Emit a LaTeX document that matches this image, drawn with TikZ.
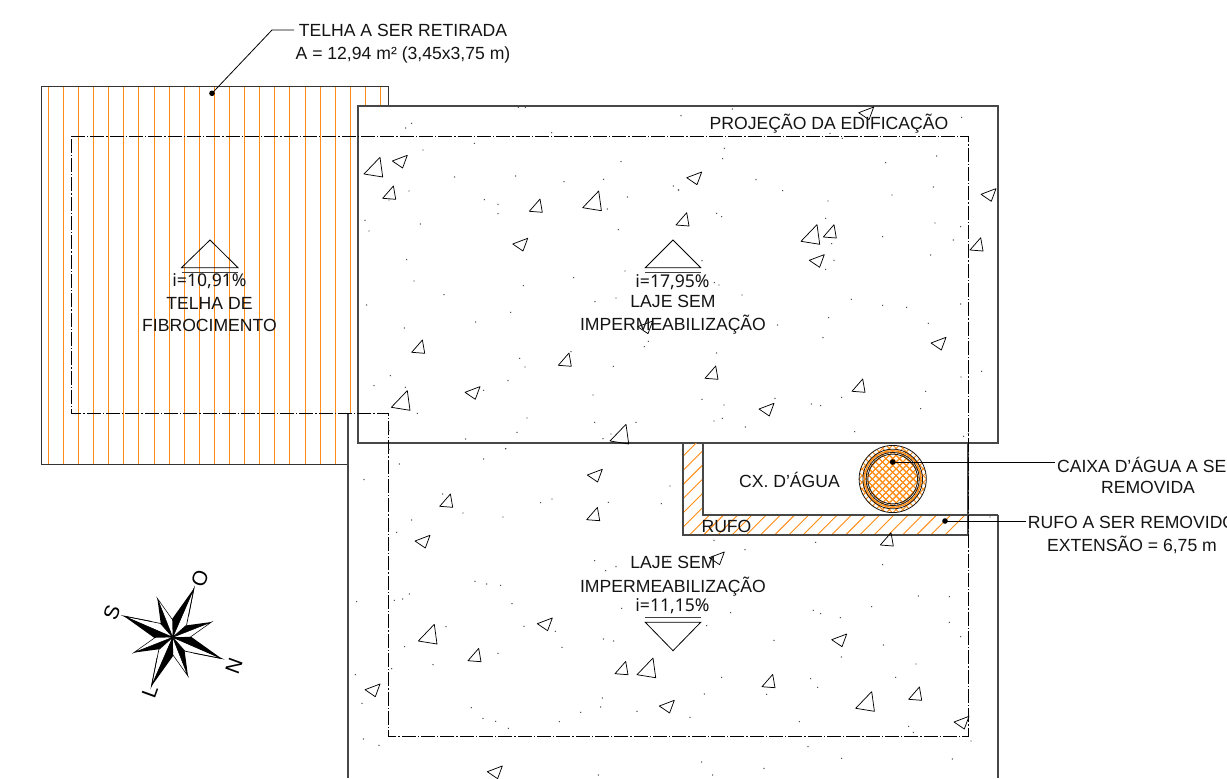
\documentclass[tikz,border=0pt]{standalone}
\usepackage{fontspec}
\setmainfont{Liberation Sans}
\newfontfamily\slopefont{Noto Sans}
\usetikzlibrary{calc}
\definecolor{hatchorange}{RGB}{255,140,20}
\tikzset{
  outline/.style={draw=black!72,line width=0.9pt},
  roofedge/.style={draw=black!80,line width=0.65pt},
  axisline/.style={draw=black,line width=0.75pt,dash pattern=on 10.5pt off 1.6pt on 0.8pt off 1.6pt},
  roofline/.style={draw=hatchorange,line width=0.7pt},
  hatchline/.style={draw=hatchorange,line width=0.7pt},
  leader/.style={draw=black,line width=0.6pt},
  lbl/.style={font=\fontsize{13.2}{17.25}\selectfont,inner sep=0pt,text=black!92},
  slopelbl/.style={font=\slopefont\fontsize{13.2}{15}\selectfont,inner sep=0pt,text=black!92},
  symb/.style={draw=black,line width=0.6pt,line join=miter},
  symbbar/.style={draw=black!75,line width=0.8pt},
  grain/.style={draw=black,line width=0.55pt,line join=round},
  speck/.style={fill=black!75},
  compasslbl/.style={font=\fontsize{15.5}{17}\selectfont,inner sep=0pt}
}
\newcommand{\triA}[2]{\draw[grain] (#1,#2) -- ++(18.7,3) -- ++(-2.7,-19.7) -- cycle;}
\newcommand{\triB}[2]{\draw[grain] (#1,#2) -- ++(13,1) -- ++(-2.3,-13.3) -- cycle;}
\newcommand{\triC}[2]{\draw[grain] (#1,#2) -- ++(15,-5.7) -- ++(-4.7,12.7) -- cycle;}
\begin{document}
\begin{tikzpicture}[x=0.75pt,y=-0.75pt]
\useasboundingbox (0,0) rectangle (1227,778);
\clip (0,0) rectangle (1227,778);
\fill[white] (0,0) rectangle (1227,778);

% roof sheets
\foreach \n in {0,...,19}{
  \draw[roofline] ({48.3+15.1*\n},86) -- ({48.3+15.1*\n},464);
}
\draw[roofline] (350.3,86) -- (350.3,413);
\draw[roofline] (365.5,86) -- (365.5,106);
\draw[roofline] (380.6,86) -- (380.6,106);

% roof outline
\draw[roofedge] (348,464) -- (41,464) -- (41,86) -- (388,86) -- (388,106);

% slabs
\draw[outline] (358,106) rectangle (998,443);
\draw[outline] (348,413) -- (348,778);
\draw[outline] (998,515) -- (998,778);

% flashing hatch
\begin{scope}
  \clip (683,443) -- (703,443) -- (703,515) -- (968,515) -- (968,535) -- (683,535) -- cycle;
  \foreach \n in {0,...,26}{
    \draw[hatchline] ({1480-14.2*\n-430},430) -- ({1480-14.2*\n-540},540);
  }
\end{scope}
\draw[outline] (683,443) -- (683,535) -- (968,535);
\draw[outline] (703,443) -- (703,515) -- (998,515);
\draw[outline] (968,443) -- (968,535);

% water tank
\coordinate (tank) at (892.7,479);
\begin{scope}
  \clip (tank) circle [radius=25];
  \foreach \n in {-8,...,8}{
    \draw[hatchline] ($(tank)+({\n*6.8-40},40)$) -- ++(80,-80);
    \draw[hatchline] ($(tank)+({\n*6.8-40},-40)$) -- ++(80,80);
  }
\end{scope}
\begin{scope}
  \clip (tank) circle [radius=33.6] (tank) circle [radius=29.8];
  \foreach \n in {-12,...,12}{
    \draw[hatchline] ($(tank)+({\n*6.8-40},40)$) -- ++(80,-80);
    \draw[hatchline] ($(tank)+({\n*6.8-40},-40)$) -- ++(80,80);
  }
\end{scope}
\draw[hatchorange,line width=1pt] (tank) circle [radius=28.2];
\foreach \r in {33.6,29.8,26.6,24.9}{
  \draw[black!90,line width=0.6pt] (tank) circle [radius=\r];
}

% outline of the building projection
\draw[axisline] (71,136) -- (968,136) -- (968,736) -- (388,736) -- (388,413) -- (71,413) -- cycle;

% concrete grain: specks
\foreach \x/\y in {490/22,511/22,170/70,152/84,590/98,358/130,204/150,798/185,482/228,299/231,627/245,746/238,955/258,970/270,162/273,817/291,388/299,429/313,429/341,757/327,102/300,30/361,42/393,196/372,790/389,155/479,177/543,810/513,656/533,505/557,267/584,35/615,720/605,783/594,467/637,362/666,148/684,880/724,868/740,648/755,494/775,510/801,775/799,106/827,57/857,151/862,386/871,459/842,714/885,187/940,516/954,719/967,843/967,102/992,486/997,768/1002,744/1016,332/1017,102/1048,452/1046}{
  \fill[speck] ({355+\x/3},{100+\y/3}) circle [radius=0.7];
}
\foreach \x/\y in {18/47,172/27,860/52,465/100,502/115,148/145,143/176,785/168,632/188,243/239,11/270,323/272,775/261,651/285,459/303,125/340,140/350,452/355,780/369,857/380,623/410,835/420,470/431,767/465,81/482,477/481,452/508,118/548,132/555,201/585,529/598,623/616,695/622,857/612,461/653,760/670,308/675,444/713,125/759,920/814,858/831,752/874,81/898,300/895,500/892,409/912,437/917,147/915,737/926,142/955,117/963,211/981,539/995,866/1009,880/1000}{
  \fill[speck] ({675+\x/3},{100+\y/3}) circle [radius=0.7];
}
\foreach \x/\y in {482/26,416/57,163/72,57/119,293/162,975/138,790/187,621/177,587/188,949/191,354/219,474/231,200/240,155/277,749/362,782/392,813/380,967/360,390/424,425/432,467/436,193/462,173/477,148/481,35/485,501/491,830/505,303/560,537/559,631/574,179/620,651/622,775/597,806/603,459/640,264/674,140/686,31/704,51/790,379/803,772/774,767/801,707/817,876/814,414/835,452/844,643/845,490/865,55/897,102/916,760/1005}{
  \fill[speck] ({345+\x/3},{440+\y/3}) circle [radius=0.7];
}
\foreach \x/\y in {132/31,437/37,225/59,638/104,745/198,838/200,605/230,430/241,452/251,182/248,511/263,838/277,110/287,872/320,312/331,640/345,514/381,738/402,155/442,422/446,677/442,443/472,290/493,103/492,60/562,388/575,716/589,730/607,903/633,414/650,515/685,847/687,95/696,282/715,128/735}{
  \fill[speck] ({670+\x/3},{530+\y/3}) circle [radius=0.7];
}
\fill[speck] (990,517) circle [radius=0.7];

% concrete grain: triangles
\foreach \x/\y in {364/174,391.3/407.3,582.7/207.7,610/441,801/241.3,418.3/641,637/674.7,855.7/708.3}{\triA{\x}{\y}}
\foreach \x/\y in {382.7/198.3,529.3/211.3,411.7/352.3,558.3/365.3,676/225,823.3/237,970/250,705/378.3,852/391.3,439.7/506.3,586.7/519.7,468/660.7,615/673.7,880.3/545,762/686.7,908.7/699.3}{\triB{\x}{\y}}
\foreach \x/\y in {392.3/161,512.7/244,465/392.3,637.7/326.7,686.7/177.7,809.3/260.3,858.7/112.7,981/194.3,931/343,759/409,587.3/475,415/541,537.3/623.7,365/689.7,659.3/706,487.3/771.7,709.3/557.7,831.7/639.7,954/722}{\triC{\x}{\y}}

% slope symbols
\draw[symb] (181.5,267.7) -- (210,240) -- (238,267.7) -- cycle;
\draw[symbbar] (181.5,272.3) -- (238,272.3);
\draw[symb] (645.3,267.7) -- (673,240) -- (700.7,267.7) -- cycle;
\draw[symbbar] (645.3,272.3) -- (700.7,272.3);
\draw[symbbar] (645.3,617.7) -- (700.7,617.7);
\draw[symb] (645.3,622.3) -- (673,650.7) -- (700.7,622.3) -- cycle;

% texts
\node[slopelbl] (slopeRoof) at (209.5,281.5) {i=10,91\%};
\node[lbl] (roofA) at (209.5,303.5) {TELHA DE};
\node[lbl] (roofB) at (209.5,325) {FIBROCIMENTO};
\node[slopelbl] (slopeTop) at (672.5,281.7) {i=17,95\%};
\node[lbl] (topA) at (673,301) {LAJE SEM};
\node[lbl] (topB) at (673,324.5) {IMPERMEABILIZAÇÃO};
\node[lbl] (lowA) at (673,562) {LAJE SEM};
\node[lbl] (lowB) at (673,587) {IMPERMEABILIZAÇÃO};
\node[slopelbl] (slopeLow) at (672.5,606) {i=11,15\%};
\node[lbl] (proj) at (829,124) {PROJEÇÃO DA EDIFICAÇÃO};
\node[lbl] (cx) at (789.5,480) {CX. D'ÁGUA};
\node[lbl] (rufo) at (726.5,526) {RUFO};
\node[lbl,align=center] (telha) at (403,44) {TELHA A SER RETIRADA\\A = 12,94 m² (3,45x3,75 m)};
\node[lbl,align=center] (caixa) at (1148,475.5) {CAIXA D'ÁGUA A SER\\[-1.7pt]REMOVIDA};
\node[lbl,align=center] (rufotxt) at (1132,534.5) {RUFO A SER REMOVIDO\\EXTENSÃO = 6,75 m};

% leaders
\coordinate (dotRoof) at (212,93.3);
\coordinate (dotTank) at (892.7,462);
\coordinate (dotRufo) at (945,521);
\coordinate (kneeRoof) at (272,30);
\coordinate (endRoof) at (294,30);
\coordinate (endTank) at (1055,462);
\coordinate (endRufo) at (1026,521);
\draw[leader] (dotRoof) -- (kneeRoof) -- (endRoof);
\draw[leader] (dotTank) -- (endTank);
\draw[leader] (dotRufo) -- (endRufo);
\foreach \c in {dotRoof,dotTank,dotRufo}{\fill[black] (\c) circle [radius=2.8];}

% compass rose
\begin{scope}[shift={(172.7,637.3)},y=0.75pt]
  \foreach \a in {21.5,111.5,201.5,291.5}{
    \draw[black,line width=0.4pt,fill=white] (\a:41.8) -- ({\a-28}:15) -- (0,0) -- cycle;
    \fill[black] (\a:41.8) -- ({\a+28}:15) -- (0,0) -- cycle;
  }
  \foreach \a in {-23.5,66.5,156.5,246.5}{
    \draw[black,line width=0.5pt,fill=white] (\a:53.4) -- ({\a-25}:18.5) -- (0,0) -- cycle;
    \draw[black,line width=0.4pt] (\a:53.4) -- ({\a-14}:26);
    \fill[black] (\a:53.4) -- ({\a+25}:18.5) -- (0,0) -- cycle;
  }
\end{scope}
\node[compasslbl,rotate=70] (north) at (234,666) {N};
\node[compasslbl,rotate=70] (south) at (111.7,612.7) {S};
\node[compasslbl,rotate=70] (east) at (150,692) {L};
\node[compasslbl,rotate=70] (west) at (200,579) {O};
\end{tikzpicture}
\end{document}
